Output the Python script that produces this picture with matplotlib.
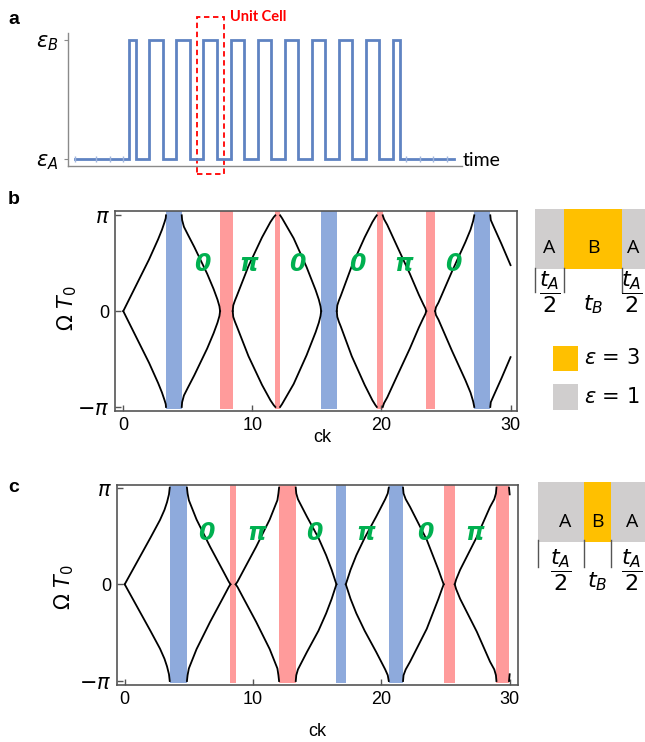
import numpy as np
import matplotlib.pyplot as plt
from matplotlib.patches import Rectangle

# ---- panel a: permittivity switching in time ----
eps_levels = [1, 3]          # eps_A, eps_B
switch_t = [2.0, 2.25, 2.75, 3.25, 3.75, 4.25, 4.75, 5.25, 5.75, 6.25, 6.75,
            7.25, 7.75, 8.25, 8.75, 9.25, 9.75, 10.25, 10.75, 11.25, 11.75, 12.0]
t_start, t_end = 0.0, 14.0
flat_marks_t = [0.0, 0.77, 1.29, 1.79, 12.24, 12.76, 13.25, 13.74]
unit_cell_t = (4.5, 5.5)

# ---- panel b / c: band structure, upper branch (ck, Omega T0 / pi) ----
b_segments = [
    [(0, 0), (1.0, 0.27), (2.0, 0.54), (2.7, 0.75), (3.0, 0.85), (3.2, 0.93), (3.29, 0.97), (3.31, 1.0)],
    [(4.53, 1.0), (4.56, 0.95), (4.7, 0.88), (5.0, 0.80), (5.5, 0.67), (6.0, 0.53), (6.5, 0.39),
     (7.0, 0.23), (7.3, 0.12), (7.45, 0.05), (7.50, 0.0)],
    [(8.48, 0.0), (8.52, 0.06), (8.65, 0.11), (8.8, 0.16), (9.7, 0.47), (10.75, 0.77), (11.4, 0.93),
     (11.65, 0.98), (11.78, 1.0)],
    [(12.15, 1.0), (12.3, 0.97), (12.6, 0.90), (13.2, 0.76), (14.2, 0.46), (14.9, 0.22), (15.15, 0.12),
     (15.28, 0.05), (15.33, 0.0)],
    [(16.54, 0.0), (16.58, 0.06), (16.7, 0.11), (16.85, 0.16), (17.7, 0.47), (18.7, 0.77), (19.3, 0.93),
     (19.53, 0.98), (19.64, 1.0)],
    [(20.10, 1.0), (20.2, 0.96), (20.45, 0.90), (21.2, 0.68), (22.2, 0.39), (22.9, 0.17), (23.25, 0.07),
     (23.4, 0.03), (23.47, 0.0)],
    [(24.16, 0.0), (24.22, 0.04), (24.42, 0.09), (25.45, 0.41), (26.5, 0.72), (26.9, 0.85), (27.1, 0.94),
     (27.19, 1.0)],
    [(28.43, 1.0), (28.47, 0.95), (28.7, 0.88), (29.3, 0.70), (30.0, 0.48)],
]
b_gaps = [(3.31, 4.53, 'blue'), (7.50, 8.48, 'red'), (11.78, 12.15, 'red'), (15.33, 16.54, 'blue'),
          (19.64, 20.10, 'red'), (23.47, 24.16, 'red'), (27.19, 28.43, 'blue')]
b_labels = [(6.1, '0'), (9.74, 'π'), (13.5, '0'), (18.1, '0'), (21.7, 'π'), (25.6, '0')]

c_segments = [
    [(0, 0), (1.0, 0.24), (2.0, 0.48), (2.75, 0.665), (3.1, 0.77), (3.3, 0.85), (3.45, 0.93), (3.51, 1.0)],
    [(4.85, 1.0), (4.9, 0.94), (5.0, 0.87), (5.6, 0.67), (6.65, 0.39), (7.7, 0.13), (8.1, 0.03), (8.24, 0.0)],
    [(8.65, 0.0), (8.8, 0.03), (9.2, 0.13), (10.25, 0.39), (11.3, 0.67), (11.9, 0.87), (11.98, 0.94),
     (12.03, 1.0)],
    [(13.33, 1.0), (13.37, 0.94), (13.5, 0.88), (14.2, 0.70), (15.1, 0.48), (15.7, 0.30), (16.13, 0.15),
     (16.4, 0.04), (16.50, 0.0)],
    [(17.23, 0.0), (17.33, 0.04), (17.6, 0.15), (18.05, 0.30), (18.7, 0.48), (19.6, 0.70), (20.3, 0.88),
     (20.5, 0.94), (20.58, 1.0)],
    [(21.69, 1.0), (21.73, 0.94), (21.9, 0.88), (22.24, 0.80), (23.54, 0.46), (24.45, 0.15), (24.72, 0.05),
     (24.86, 0.0)],
    [(25.72, 0.0), (25.83, 0.05), (26.14, 0.15), (27.44, 0.49), (28.47, 0.80), (28.8, 0.88), (28.93, 0.94),
     (28.97, 1.0)],
    [(29.95, 1.0), (30.0, 0.93)],
]
c_gaps = [(3.51, 4.85, 'blue'), (8.24, 8.65, 'red'), (12.03, 13.33, 'red'), (16.50, 17.23, 'blue'),
          (20.58, 21.69, 'blue'), (24.86, 25.72, 'red'), (28.97, 29.95, 'red')]
c_labels = [(6.37, '0'), (10.26, 'π'), (14.8, '0'), (18.8, 'π'), (23.4, '0'), (27.3, 'π')]

# unit-cell sketches: (name, width in px of the sketch)
b_cell = [('A', 29), ('B', 58), ('A', 29)]
c_cell = [('A', 46), ('B', 27), ('A', 46)]

gap_colors = {'blue': '#8eaadc', 'red': '#ff9b9b'}
cell_colors = {'A': '#d0cece', 'B': '#ffc000'}
green = '#00b050'

W, H = 645, 742
fig = plt.figure(figsize=(W / 100, H / 100), dpi=100)


def px_axes(l, t, r, b):
    return fig.add_axes([l / W, 1 - b / H, (r - l) / W, (b - t) / H])


# overlay in pixel units for letters and sketches
ov = fig.add_axes([0, 0, 1, 1])
ov.set_xlim(0, W)
ov.set_ylim(H, 0)
ov.axis('off')

# ---------------- panel a ----------------
axa = px_axes(68, 33, 462, 166)
t_pts = [t_start] + switch_t + [t_end]
lvl = [eps_levels[0]]
for i in range(len(switch_t)):
    lvl.append(eps_levels[(i + 1) % 2])
lvl.append(lvl[-1])
axa.plot(t_pts, lvl, drawstyle='steps-post', color='#5f83c2', lw=2.0, solid_joinstyle='miter')
axa.plot(flat_marks_t, [eps_levels[0]] * len(flat_marks_t), ls='none', marker='|',
         ms=4, mew=1, color='#9fb4dc')
axa.set_xlim(-0.26, 14.31)
axa.set_ylim(0.882, 3.118)
for s in ['top', 'right']:
    axa.spines[s].set_visible(False)
for s in ['left', 'bottom']:
    axa.spines[s].set_color('#8a8a8a')
    axa.spines[s].set_linewidth(1.0)
axa.set_xticks([])
axa.set_yticks(eps_levels)
axa.set_yticklabels([r'$\varepsilon_A$', r'$\varepsilon_B$'], fontsize=15)
axa.tick_params(axis='y', length=3, color='#8a8a8a', pad=4)
axa.add_patch(Rectangle((unit_cell_t[0], 0.748), unit_cell_t[1] - unit_cell_t[0], 3.387 - 0.748,
                        fill=False, ec='red', ls=(0, (3, 2)), lw=1.3, clip_on=False))
axa.text(5.73, 3.39, 'Unit Cell', color='red', weight='bold', fontsize=10.5, family='Lato',
         va='center', ha='left', clip_on=False)
ov.text(463, 160, 'time', fontsize=14, family='Lato', va='center', ha='left')


# ---------------- panels b and c ----------------
def band_panel(ax, segs, gaps, labels, label_y, xlim, ylim):
    for lo, hi, c in gaps:
        ax.axvspan(lo, hi, ymin=0.01, ymax=1, color=gap_colors[c], lw=0, zorder=1)
    for seg in segs:
        k = np.array([p[0] for p in seg])
        w = np.array([p[1] for p in seg]) * np.pi
        ax.plot(k, w, color='black', lw=1.3, zorder=2)
        ax.plot(k, -w, color='black', lw=1.3, zorder=2)
    for x, s in labels:
        ax.text(x, label_y * np.pi, s, color=green, fontsize=17, weight='bold', style='italic',
                family='DejaVu Sans', ha='center', va='center', zorder=3)
    ax.set_xlim(*xlim)
    ax.set_ylim(ylim[0] * np.pi, ylim[1] * np.pi)
    ax.set_xticks([0, 10, 20, 30])
    ax.set_xticklabels(['0', '10', '20', '30'], family='Liberation Sans', fontsize=13)
    ax.set_yticks([-np.pi, 0, np.pi])
    ax.set_yticklabels([r'$-\pi$', '0', r'$\pi$'], fontsize=15)
    for lab in ax.get_yticklabels():
        if lab.get_text() == '0':
            lab.set_family('Liberation Sans')
            lab.set_fontsize(13)
    ax.tick_params(direction='in', length=4, width=1, color='#555555', pad=4)
    for s in ax.spines.values():
        s.set_color('#555555')
        s.set_linewidth(1.2)


axb = px_axes(115, 211, 517, 411)
band_panel(axb, b_segments, b_gaps, b_labels, 0.495, (-0.64, 30.5), (-1.042, 1.045))
axc = px_axes(117, 485, 518, 685)
band_panel(axc, c_segments, c_gaps, c_labels, 0.527, (-0.6, 30.65), (-1.041, 1.027))

ov.text(322, 438, 'ck', fontsize=13, family='Liberation Sans', ha='center', va='center')
ov.text(317, 732, 'ck', fontsize=13, family='Liberation Sans', ha='center', va='center')
ov.text(67, 308, r'$\Omega\ T_0$', fontsize=15, rotation=90, ha='center', va='center')
ov.text(64, 587, r'$\Omega\ T_0$', fontsize=15, rotation=90, ha='center', va='center')

# panel letters
for x, y, s in [(14, 19, 'a'), (14, 200, 'b'), (14, 488, 'c')]:
    ov.text(x, y, s, fontsize=14, weight='bold', family='Liberation Sans', ha='center', va='center')


# ---------------- unit-cell sketches ----------------
def cell_sketch(x0, top, bottom, cell, label_y, bar_top, bar_bot, frac_y, tb_y, label_dx):
    x = x0
    edges = []
    for (name, w), dx in zip(cell, label_dx):
        ov.add_patch(Rectangle((x, top), w, bottom - top, color=cell_colors[name], lw=0))
        ov.text(x + w / 2 + dx, label_y, name, fontsize=14, family='Open Sans',
                ha='center', va='center')
        edges.append((x, w, name))
        x += w
    for xe, w, name in edges:
        ov.plot([xe, xe], [bar_top, bar_bot], color='#555555', lw=1.0)
        if name == 'A':
            # keep the last fraction inside the figure edge
            xc = min(xe + w / 2, W - 13)
            ov.text(xc, frac_y, r'$\dfrac{t_A}{2}$', fontsize=16, ha='center', va='center')
        else:
            ov.text(xe + w / 2, tb_y, r'$t_B$', fontsize=16, ha='center', va='center')


cell_sketch(535, 209, 269, b_cell, 248, 268, 292, 292, 305, [0, 0, -3])
cell_sketch(538, 482, 542, c_cell, 522, 540, 567, 570, 582, [4, 0, -2])

# legend squares
ov.add_patch(Rectangle((553, 346), 25, 25, color=cell_colors['B'], lw=0))
ov.add_patch(Rectangle((553, 384), 25, 26, color=cell_colors['A'], lw=0))
ov.text(584, 358, r'$\varepsilon$ = 3', fontsize=15, ha='left', va='center')
ov.text(584, 397, r'$\varepsilon$ = 1', fontsize=15, ha='left', va='center')

fig.savefig('out.png', dpi=100)
